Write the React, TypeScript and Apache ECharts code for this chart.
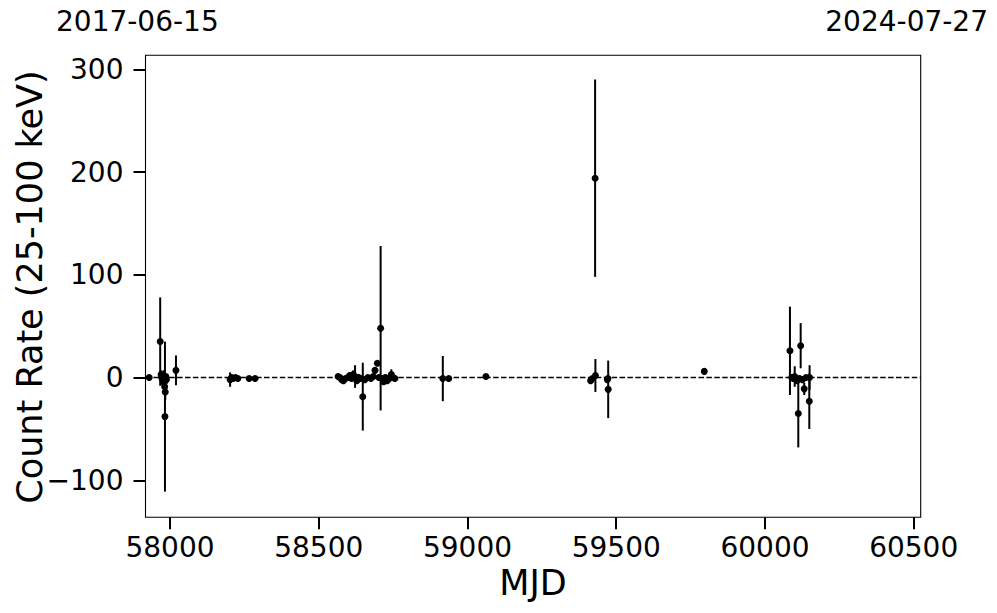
import React, { useEffect, useRef } from "react";
import * as echarts from "echarts";

const mjd = [
  57930, 57967, 57970, 57972, 57975, 57978, 57980, 57982, 57984, 57983, 57986, 57988, 58020,
  58202, 58207, 58212, 58220, 58228, 58266, 58286,
  58565, 58571, 58577, 58583, 58590, 58598, 58604, 58610, 58616, 58622, 58628, 58634, 58640,
  58648, 58655, 58665, 58675, 58683, 58689, 58697, 58702, 58708, 58713, 58718, 58724, 58730,
  58737, 58744, 58750, 58756,
  58917, 58937, 59062,
  59414, 59420, 59429, 59430, 59470, 59472, 59473,
  59796,
  60084, 60090, 60095, 60100, 60104, 60108, 60112, 60116, 60120, 60126, 60132, 60138, 60149, 60150,
];
const rate = [
  0, 35, 3, 0, -2, 2, -5, -9, -14, -38, 1, -2, 7,
  -2, 0, -1, 0, -1, -1, -1,
  1, 0, -2, -3, -1, 0, 2, -1, 3, 1, -3, 0, -1,
  -18.6, -2, 0, -1, 1, 7, 14, 0, 48, -1, -4, 0, -3,
  -1, 3, 0, -1,
  -1, -1, 1,
  -3, -1, 194, 2, -2, -1, -11.5,
  6,
  26, 0, -1, 1, -2, -3, -35, -1, 31, -2, -11, 0, -23, 0,
];
const err = [
  1, 43, 4, 3, 3, 5, 4, 6, 8, 73, 3, 4, 14.5,
  7, 2, 2, 2, 2, 1, 1,
  2, 2, 2, 2, 2, 3, 3, 3, 4, 11, 3, 3, 2,
  33, 3, 2, 2, 2, 3, 3, 3, 80, 3, 3, 3, 3,
  3, 5, 3, 2,
  22, 2, 1,
  2, 2, 96, 16, 3, 2, 28,
  1,
  43, 3, 3, 10, 3, 3, 33, 3, 22, 3, 6, 2, 27, 12,
];

const xTicks = [58000, 58500, 59000, 59500, 60000, 60500];
const yTicks = [-100, 0, 100, 200, 300];
const topLeftLabel = "2017-06-15";
const topRightLabel = "2024-07-27";

const FONT = "DejaVu Sans";

export default function App() {
  const ref = useRef<HTMLDivElement>(null);
  useEffect(() => {
    if (!ref.current) return;
    const chart = echarts.init(ref.current, null, { renderer: "svg" });
    const pts = mjd.map((x, i) => [x, rate[i], err[i]]);
    const fmt = (v: number) => (v < 0 ? "\u2212" + Math.abs(v) : String(v));
    chart.setOption({
      animation: false,
      backgroundColor: "#fff",
      grid: {
        left: 145.5,
        top: 55.3,
        right: 997 - 920.7,
        bottom: 613 - 517.3,
        show: true,
        borderColor: "#000",
        borderWidth: 1.1,
        backgroundColor: "transparent",
      },
      xAxis: {
        type: "value",
        min: 57917.6,
        max: 60523.5,
        splitLine: { show: false },
        axisLine: { show: false, onZero: false },
        axisTick: {
          show: true,
          inside: false,
          length: 12,
          customValues: xTicks,
          lineStyle: { color: "#000", width: 2 },
        },
        axisLabel: {
          show: true,
          customValues: xTicks,
          margin: 16,
          color: "#000",
          fontSize: 28,
          fontFamily: FONT,
          formatter: (v: number) => String(v),
        },
      },
      yAxis: {
        type: "value",
        min: -136,
        max: 313.6,
        splitLine: { show: false },
        axisLine: { show: false, onZero: false },
        axisTick: {
          show: true,
          inside: false,
          length: 12,
          customValues: yTicks,
          lineStyle: { color: "#000", width: 2 },
        },
        axisLabel: {
          show: true,
          customValues: yTicks,
          margin: 22,
          color: "#000",
          fontSize: 28,
          fontFamily: FONT,
          formatter: fmt,
        },
      },
      graphic: [
        {
          type: "text",
          left: 56,
          top: 7,
          style: { text: topLeftLabel, fontSize: 28, fontFamily: FONT, fill: "#000" },
        },
        {
          type: "text",
          right: 9,
          top: 7,
          style: { text: topRightLabel, fontSize: 28, fontFamily: FONT, fill: "#000" },
        },
        {
          type: "text",
          x: 533,
          y: 583,
          style: {
            text: "MJD",
            fontSize: 35,
            fontFamily: FONT,
            fill: "#000",
            align: "center",
            verticalAlign: "middle",
          },
        },
        {
          type: "text",
          x: 30,
          y: 287,
          rotation: Math.PI / 2,
          style: {
            text: "Count Rate (25-100 keV)",
            fontSize: 35,
            fontFamily: FONT,
            fill: "#000",
            align: "center",
            verticalAlign: "middle",
          },
        },
      ],
      series: [
        {
          type: "custom",
          data: pts,
          z: 2,
          clip: true,
          renderItem: (params: any, api: any) => {
            const x = api.value(0);
            const y = api.value(1);
            const e = api.value(2);
            const p1 = api.coord([x, y + e]);
            const p2 = api.coord([x, y - e]);
            return {
              type: "line",
              shape: { x1: p1[0], y1: p1[1], x2: p2[0], y2: p2[1] },
              style: { stroke: "#000", lineWidth: 2 },
            };
          },
        },
        {
          type: "scatter",
          data: pts.map((p) => [p[0], p[1]]),
          symbol: "circle",
          symbolSize: 7,
          z: 3,
          itemStyle: { color: "#000", opacity: 1 },
          markLine: {
            silent: true,
            symbol: "none",
            label: { show: false },
            lineStyle: { color: "#000", width: 1.4, type: [5.5, 2.4], opacity: 1 },
            data: [{ yAxis: 0 }],
          },
        },
      ],
    });
    return () => chart.dispose();
  }, []);
  return (
    <div
      ref={ref}
      style={{ position: "absolute", left: 0, top: 0, width: 997, height: 613 }}
    />
  );
}
